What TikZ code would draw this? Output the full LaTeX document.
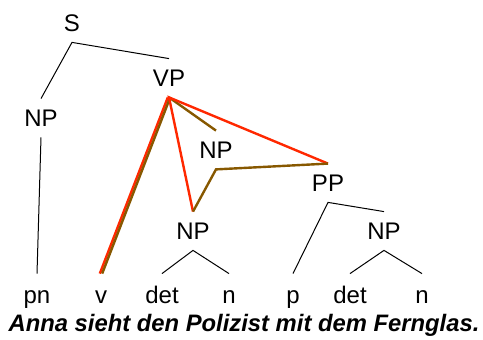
\documentclass[tikz,border=0pt]{standalone}
\usepackage{fontspec}
\setmainfont{Liberation Sans}
\definecolor{treered}{RGB}{255,40,0}
\definecolor{treebrown}{RGB}{135,88,0}
\begin{document}
\begin{tikzpicture}[x=0.5pt,y=-0.5pt,
  cat/.style={inner sep=0pt, text height=8.6pt, text depth=0pt, minimum height=19pt, font=\fontsize{12}{14}\selectfont},
  word/.style={inner sep=0pt, text height=15pt, text depth=0pt, anchor=base, font=\fontsize{12}{14}\selectfont},
  branch/.style={draw=black, line width=0.5pt},
  redpath/.style={draw=treered, line width=1.2pt},
  brownpath/.style={draw=treebrown, line width=1.2pt}]
\useasboundingbox (0,0) rectangle (483,340);
\node[cat] (S) at (72,23) {S};
\node[cat] (NPa) at (41,118) {NP};
\node[cat] (VP) at (169,78) {VP};
\node[cat] (NPb) at (216,150) {NP};
\node[cat] (NPc) at (193,231) {NP};
\node[cat] (PP) at (328,183) {PP};
\node[cat] (NPd) at (384,231) {NP};
\node[word] (pn) at (37,304) {pn};
\node[word] (v) at (101,304) {v};
\node[word] (detA) at (162,304) {det};
\node[word] (nA) at (229,304) {n};
\node[word] (p) at (293,304) {p};
\node[word] (detB) at (350,304) {det};
\node[word] (nB) at (422,304) {n};
\node[anchor=base, inner sep=0pt, font=\fontsize{11.9}{14}\selectfont\bfseries\itshape] (sent) at (244,332) {Anna sieht den Polizist mit dem Fernglas.};
\draw[branch] (NPa.north) -- (S.south) -- (VP.north);
\draw[branch] (NPa.south) -- (pn.north);
\draw[branch] (detA.north) -- (NPc.south) -- (nA.north);
\draw[branch] (p.north) -- (PP.south) -- (NPd.north);
\draw[branch] (detB.north) -- (NPd.south) -- (nB.north);
\draw[redpath] ([xshift=-0.6pt]v.north) -- ([xshift=-0.6pt]VP.south);
\draw[brownpath] ([xshift=0.6pt]v.north) -- ([xshift=0.6pt]VP.south);
\draw[brownpath] (VP.south) -- (NPb.north);
\draw[redpath] (NPc.north) -- (VP.south) -- (PP.north);
\draw[brownpath] (NPc.north) -- (NPb.south) -- (PP.north);
\end{tikzpicture}
\end{document}
